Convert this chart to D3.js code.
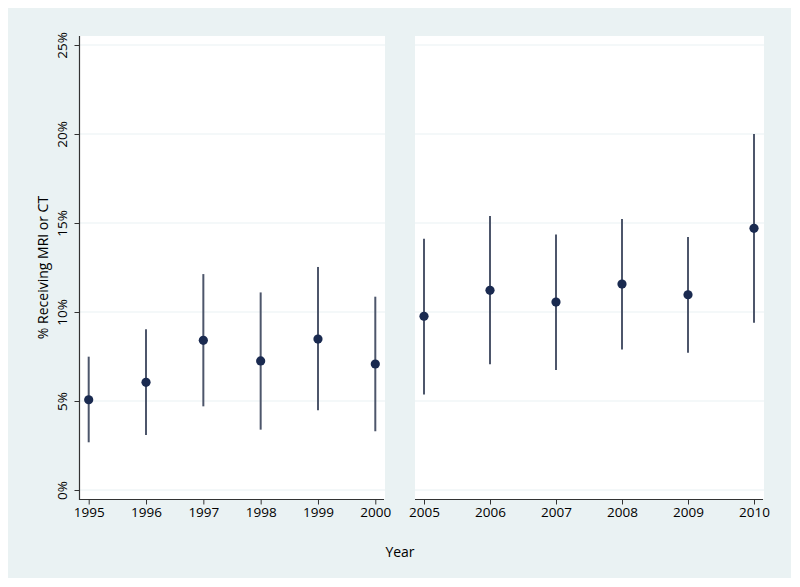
<!DOCTYPE html>
<html>
<head>
<meta charset="utf-8">
<script src="https://cdn.jsdelivr.net/npm/d3@7"></script>
<style>
  html, body { margin: 0; padding: 0; background: #ffffff; }
  svg { display: block; }
  text { font-family: "Open Sans", "DejaVu Sans", sans-serif; fill: #000; }
</style>
</head>
<body>
<svg id="chart" width="800" height="587"></svg>
<script>
// ---- Data ----
const yearsA = [1995, 1996, 1997, 1998, 1999, 2000];
const estA   = [5.07, 6.05, 8.41, 7.25, 8.48, 7.08];
const lowA   = [2.68, 3.09, 4.70, 3.39, 4.48, 3.30];
const highA  = [7.49, 9.03, 12.13, 11.10, 12.53, 10.86];

const yearsB = [2005, 2006, 2007, 2008, 2009, 2010];
const estB   = [9.76, 11.22, 10.56, 11.57, 10.97, 14.70];
const lowB   = [5.37, 7.06, 6.74, 7.90, 7.71, 9.40];
const highB  = [14.12, 15.39, 14.36, 15.22, 14.21, 20.00];

const yTicks = [0, 5, 10, 15, 20, 25];
const yTickLabels = ["0%", "5%", "10%", "15%", "20%", "25%"];
const xTicksA = yearsA;
const xTicksB = yearsB;

// ---- Layout ----
const svg = d3.select("#chart");
const W = 800, H = 587;
const bg = "#eaf2f3";
const plotTop = 36, plotBottom = 499;
const panels = [
  { x0: 80, x1: 385, r0: 88.7, r1: 375.3, years: yearsA, est: estA, low: lowA, high: highA, ticks: xTicksA, yAxis: true },
  { x0: 415, x1: 764, r0: 424, r1: 754, years: yearsB, est: estB, low: lowB, high: highB, ticks: xTicksB, yAxis: false }
];

svg.append("rect").attr("x", 0).attr("y", 0).attr("width", W).attr("height", H).attr("fill", "#ffffff");
svg.append("rect").attr("x", 8).attr("y", 8).attr("width", 783).attr("height", 570).attr("fill", bg);

const y = d3.scaleLinear().domain([0, 25]).range([490, 45]);

panels.forEach(p => {
  const g = svg.append("g");
  const x = d3.scaleLinear().domain([p.years[0], p.years[p.years.length - 1]]).range([p.r0, p.r1]);

  // plot region
  g.append("rect").attr("x", p.x0).attr("y", plotTop).attr("width", p.x1 - p.x0).attr("height", plotBottom - plotTop).attr("fill", "#ffffff");

  // gridlines
  g.selectAll("line.grid").data(yTicks).join("line")
    .attr("class", "grid")
    .attr("x1", p.x0).attr("x2", p.x1)
    .attr("y1", d => y(d)).attr("y2", d => y(d))
    .attr("stroke", bg).attr("stroke-width", 1.2);

  // x axis
  const xAxis = d3.axisBottom(x).tickValues(p.ticks).tickFormat(d3.format("d")).tickSize(5).tickPadding(3);
  const ax = g.append("g").attr("transform", `translate(0,${plotBottom + 0.5})`).call(xAxis);
  ax.select(".domain").attr("d", `M${p.x0 - (p.yAxis ? 0.5 : 0)},0H${p.x1 - 1}`).attr("stroke", "#333").attr("stroke-width", 1.2);
  ax.selectAll(".tick line").attr("stroke", "#333");
  ax.selectAll(".tick text").attr("font-size", 13.5).attr("font-family", "'Open Sans', sans-serif").attr("fill", "#000");

  // y axis (left panel only)
  if (p.yAxis) {
    const yAxis = d3.axisLeft(y).tickValues(yTicks).tickFormat((d, i) => yTickLabels[i]).tickSize(5).tickPadding(0);
    const ay = g.append("g").attr("transform", `translate(${p.x0 - 0.5},0)`).call(yAxis);
    ay.select(".domain").attr("d", `M0,${plotTop}V${plotBottom + 1}`).attr("stroke", "#333").attr("stroke-width", 1.2);
    ay.selectAll(".tick line").attr("stroke", "#333");
    ay.selectAll(".tick text")
      .attr("x", null).attr("dy", null)
      .attr("text-anchor", "middle")
      .attr("transform", "translate(-12.5,0) rotate(-90)")
      .attr("font-size", 13.5).attr("font-family", "'Open Sans', sans-serif").attr("fill", "#000");
  }

  // confidence intervals
  g.selectAll("line.ci").data(p.years).join("line")
    .attr("class", "ci")
    .attr("x1", d => x(d)).attr("x2", d => x(d))
    .attr("y1", (d, i) => y(p.low[i])).attr("y2", (d, i) => y(p.high[i]))
    .attr("stroke", "#4d566b").attr("stroke-width", 2);

  // point estimates
  g.selectAll("circle.pt").data(p.years).join("circle")
    .attr("class", "pt")
    .attr("cx", d => x(d)).attr("cy", (d, i) => y(p.est[i]))
    .attr("r", 4.6).attr("fill", "#1a2a50");
});

// axis titles
svg.append("text")
  .attr("transform", `translate(48,${(plotTop + plotBottom) / 2}) rotate(-90)`)
  .attr("text-anchor", "middle").attr("font-size", 14)
  .text("% Receiving MRI or CT");

svg.append("text")
  .attr("x", 400).attr("y", 557)
  .attr("text-anchor", "middle").attr("font-size", 14)
  .text("Year");
</script>
</body>
</html>
